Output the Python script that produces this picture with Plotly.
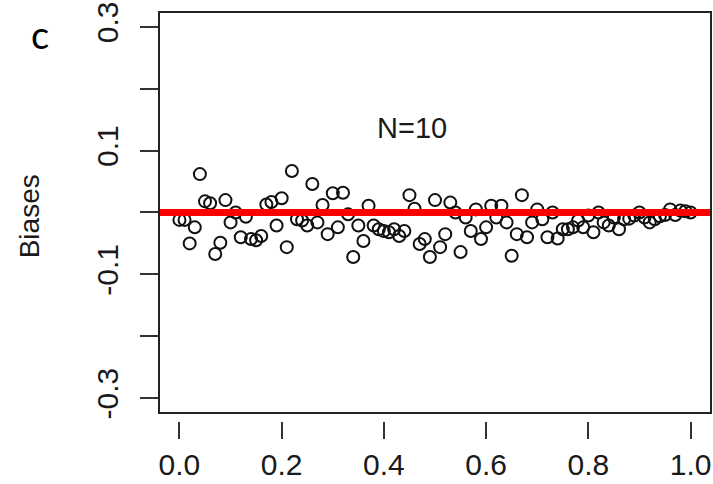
import numpy as np
import plotly.graph_objects as go

# Simulated bias of the estimator at each true proportion (N = 10)
proportions = [round(i * 0.01, 2) for i in range(101)]
biases = [
    -0.012, -0.012, -0.050, -0.024, 0.062, 0.018, 0.015, -0.067, -0.049, 0.020,
    -0.016, 0.000, -0.040, -0.007, -0.043, -0.045, -0.038, 0.013, 0.017, -0.021,
    0.023, -0.056, 0.067, -0.011, -0.013, -0.021, 0.046, -0.016, 0.012, -0.035,
    0.031, -0.024, 0.032, -0.003, -0.072, -0.021, -0.046, 0.011, -0.021, -0.027,
    -0.030, -0.032, -0.027, -0.038, -0.030, 0.028, 0.006, -0.051, -0.043, -0.072,
    0.020, -0.056, -0.035, 0.016, 0.000, -0.064, -0.008, -0.030, 0.005, -0.043,
    -0.024, 0.011, -0.008, 0.011, -0.016, -0.070, -0.035, 0.028, -0.040, -0.016,
    0.005, -0.011, -0.040, 0.000, -0.042, -0.027, -0.027, -0.024, -0.013, -0.024,
    -0.005, -0.032, 0.000, -0.016, -0.021, -0.008, -0.027, -0.011, -0.010, -0.005,
    0.000, -0.008, -0.016, -0.011, -0.006, -0.004, 0.005, -0.004, 0.003, 0.002,
    0.000,
]

x_ticks = [0.0, 0.2, 0.4, 0.6, 0.8, 1.0]
x_labels = ["0.0", "0.2", "0.4", "0.6", "0.8", "1.0"]
y_ticks = [-0.3, -0.2, -0.1, 0.0, 0.1, 0.2, 0.3]
y_labels = ["-0.3", "", "-0.1", "", "0.1", "", "0.3"]

panel_label = "c"
sample_note = "N=10"

FONT = "Liberation Sans, Arial, sans-serif"
INK = "#1a1a1a"

# axis ranges: 4% padding like base R, y domain extended a little below
# the frame so the x tick marks sit just under the box
x_range = [-0.04, 1.04]
y_box = [-0.324, 0.324]
y_range = [-0.337, 0.324]

fig = go.Figure()

fig.add_trace(go.Scatter(
    x=proportions,
    y=biases,
    mode="markers",
    marker=dict(symbol="circle-open", size=12, color="#111111",
                line=dict(width=2, color="#111111")),
    showlegend=False,
    hoverinfo="x+y",
))

# reference line at zero bias
fig.add_hline(y=0, line=dict(color="#ff0000", width=7), layer="above")

# plot frame
box_bottom = (y_box[0] - y_range[0]) / (y_range[1] - y_range[0])
fig.add_shape(type="rect", xref="paper", yref="paper",
              x0=0, x1=1, y0=box_bottom, y1=1,
              line=dict(color="#222222", width=2), layer="above")

fig.add_annotation(x=0.455, y=0.137, xref="x", yref="y", text=sample_note,
                   xanchor="center", yanchor="middle", showarrow=False,
                   font=dict(family=FONT, size=29, color=INK))

fig.add_annotation(x=-0.234, y=0.5, xref="paper", yref="paper", text="Biases",
                   textangle=-90, xanchor="center", yanchor="middle",
                   showarrow=False, font=dict(family=FONT, size=28, color=INK))

fig.add_annotation(x=-0.215, y=0.945, xref="paper", yref="paper", text=panel_label,
                   xanchor="center", yanchor="middle", showarrow=False,
                   font=dict(family="Lato, Open Sans, sans-serif",
                             size=38, color="black"))

fig.update_xaxes(
    range=x_range, showgrid=False, zeroline=False, showline=False,
    tickmode="array", tickvals=x_ticks, ticktext=x_labels,
    ticks="outside", ticklen=17, tickwidth=1.8, tickcolor="#333333",
    tickfont=dict(family=FONT, size=30, color=INK),
)
fig.update_yaxes(
    range=y_range, showgrid=False, zeroline=False, showline=False,
    tickmode="array", tickvals=y_ticks, ticktext=y_labels, tickangle=-90,
    ticks="outside", ticklen=18, tickwidth=1.8, tickcolor="#333333",
    ticklabelstandoff=10,
    tickfont=dict(family=FONT, size=30, color=INK),
)

fig.update_layout(
    width=713, height=484,
    margin=dict(l=159, r=2, t=12, b=63),
    paper_bgcolor="white", plot_bgcolor="white",
)

fig.write_html("out.html")
